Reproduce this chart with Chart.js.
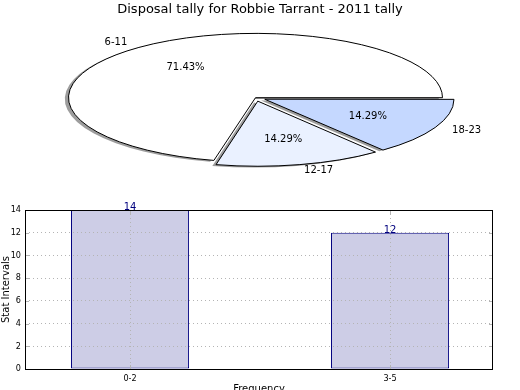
<!DOCTYPE html>
<html>
<head>
<meta charset="utf-8">
<script src="https://cdn.jsdelivr.net/npm/chart.js@4.4.1/dist/chart.umd.min.js"></script>
<style>
  html, body { margin: 0; padding: 0; background: #fff; overflow: hidden; }
  #wrap { position: relative; width: 520px; height: 390px; }
  canvas { position: absolute; left: 0; top: 0; }
</style>
</head>
<body>
<div id="wrap">
  <canvas id="barChart" width="520" height="395"></canvas>
  <canvas id="pieChart" width="520" height="390"></canvas>
</div>
<script>
// pie: disposal tally by stat interval
const ageGroups = ["6-11", "12-17", "18-23"];
const ageShares = [5, 1, 1];

// bar: counts per frequency bin
const freqBins = ["0-2", "3-5"];
const binCounts = [14, 12];
const countTicks = [0, 2, 4, 6, 8, 10, 12, 14];

const sliceColors = ["#ffffff", "#eaf1ff", "#c5d8ff"];
const explode = [0, 41, 41];

// the pie is drawn round by Chart.js and flattened onto an ellipse here
const PIE_X = 255.5, PIE_Y = 97.7, SQUASH = 0.344, SHADOW = 3.7;

Chart.defaults.font.family = "'DejaVu Sans', sans-serif";
Chart.defaults.color = "#000";

function squashTo(ctx, arc, dx, dy) {
  ctx.translate(PIE_X, PIE_Y);
  ctx.scale(1, SQUASH);
  ctx.translate(-arc.x + dx, -arc.y + dy);
}

const flatPie = {
  id: "flatPie",
  beforeDatasetsDraw(chart) {
    const ctx = chart.ctx;
    const arcs = chart.getDatasetMeta(0).data;
    const fill = ctx.fill, stroke = ctx.stroke;
    const dpr = chart.currentDevicePixelRatio;

    // shadows go under every wedge
    ctx.save();
    squashTo(ctx, arcs[0], -SHADOW, SHADOW);
    ctx.fill = function () { this.fillStyle = "rgba(60,60,60,0.5)"; fill.call(this); };
    ctx.stroke = function () {};
    arcs.forEach(a => a.draw(ctx));
    delete ctx.fill;
    delete ctx.stroke;
    ctx.restore();

    // wedges: path squashed, outline stroked at 1px
    ctx.save();
    squashTo(ctx, arcs[0], 0, 0);
    ctx.stroke = function () {
      this.save();
      this.setTransform(dpr, 0, 0, dpr, 0, 0);
      stroke.call(this);
      this.restore();
    };
  },
  afterDatasetsDraw(chart) {
    const ctx = chart.ctx;
    delete ctx.stroke;
    ctx.restore();

    const arcs = chart.getDatasetMeta(0).data;
    const vals = chart.data.datasets[0].data;
    const total = vals.reduce((s, v) => s + v, 0);
    ctx.save();
    ctx.font = "10px 'DejaVu Sans'";
    ctx.fillStyle = "#000";
    ctx.textBaseline = "middle";
    arcs.forEach((arc, i) => {
      const mid = (arc.startAngle + arc.endAngle) / 2;
      const push = (arc.options.offset / 4) * (2 - Math.sin(Math.min(Math.PI, arc.circumference)));
      const at = k => [
        PIE_X + Math.cos(mid) * (push + k * arc.outerRadius),
        PIE_Y + Math.sin(mid) * (push + k * arc.outerRadius) * SQUASH
      ];
      const [lx, ly] = at(1.1);
      ctx.textAlign = Math.cos(mid) > 0 ? "left" : "right";
      ctx.fillText(chart.data.labels[i], lx, ly);
      const [px, py] = at(0.6);
      ctx.textAlign = "center";
      ctx.fillText((vals[i] / total * 100).toFixed(2) + "%", px, py);
    });
    ctx.restore();
  }
};

// matplotlib goes counter-clockwise from 3 o'clock, Chart.js clockwise
const rev = a => a.slice().reverse();

new Chart(document.getElementById("pieChart"), {
  type: "pie",
  data: {
    labels: rev(ageGroups),
    datasets: [{
      data: rev(ageShares),
      backgroundColor: rev(sliceColors),
      offset: rev(explode),
      borderColor: "#000",
      borderWidth: 1,
      borderJoinStyle: "miter",
      clip: false
    }]
  },
  options: {
    responsive: false,
    animation: false,
    events: [],
    rotation: 90,
    radius: 187,
    plugins: {
      legend: { display: false },
      tooltip: { enabled: false },
      title: {
        display: true,
        text: "Disposal tally for Robbie Tarrant - 2011 tally",
        font: { size: 13, weight: "normal" },
        color: "#000",
        padding: { top: 2, bottom: 0 }
      }
    }
  },
  plugins: [flatPie]
});

const axesBox = {
  id: "axesBox",
  afterDraw(chart) {
    const ctx = chart.ctx;
    const { left, top, right, bottom } = chart.chartArea;
    const x = chart.scales.x, y = chart.scales.y;
    ctx.save();
    // little inward tick marks on all four sides
    ctx.strokeStyle = "#b4b4b4";
    ctx.lineWidth = 1;
    ctx.beginPath();
    y.ticks.forEach(t => {
      const py = Math.round(y.getPixelForValue(t.value)) + 0.5;
      ctx.moveTo(left, py); ctx.lineTo(left + 4, py);
      ctx.moveTo(right - 4, py); ctx.lineTo(right, py);
    });
    x.ticks.forEach(t => {
      const px = Math.round(x.getPixelForValue(t.value)) + 0.5;
      ctx.moveTo(px, top); ctx.lineTo(px, top + 4);
      ctx.moveTo(px, bottom - 4); ctx.lineTo(px, bottom);
    });
    ctx.stroke();

    ctx.strokeStyle = "#000";
    ctx.strokeRect(Math.round(left) + 0.5, Math.round(top) + 0.5, Math.round(right - left) - 1, Math.round(bottom - top));

    ctx.font = "10px 'DejaVu Sans'";
    ctx.fillStyle = "#00007f";
    ctx.textAlign = "center";
    ctx.textBaseline = "alphabetic";
    chart.getDatasetMeta(0).data.forEach((bar, i) => {
      ctx.fillText(String(binCounts[i]), bar.x, bar.y);
    });
    ctx.restore();
  }
};

const tickFont = { family: "'DejaVu Sans Condensed', 'DejaVu Sans'", size: 9 };
const gridStyle = { color: "#b4b4b4", drawTicks: false, offset: false, z: 1 };

new Chart(document.getElementById("barChart"), {
  type: "bar",
  data: {
    datasets: [{
      data: freqBins.map((b, i) => ({ x: i, y: binCounts[i] })),
      backgroundColor: "#cdcde6",
      borderColor: "#00007f",
      borderWidth: 1,
      borderSkipped: false,
      barPercentage: 0.454,
      categoryPercentage: 1
    }]
  },
  options: {
    responsive: false,
    animation: false,
    events: [],
    layout: { padding: { top: 210, right: 27, bottom: 0, left: 0 } },
    plugins: { legend: { display: false }, tooltip: { enabled: false } },
    scales: {
      x: {
        type: "linear",
        min: -0.404,
        max: 1.396,
        offset: false,
        afterBuildTicks: s => { s.ticks = freqBins.map((b, i) => ({ value: i })); },
        afterFit: s => { s.height = 26; },
        ticks: { callback: v => freqBins[v], font: tickFont, padding: 4, maxRotation: 0, autoSkip: false },
        grid: gridStyle,
        border: { display: false, dash: [1, 3] },
        title: { display: true, text: "Frequency", font: { size: 10 }, padding: 0 }
      },
      y: {
        min: 0,
        max: 14,
        afterBuildTicks: s => { s.ticks = countTicks.map(v => ({ value: v })); },
        afterFit: s => { s.width = 25; },
        ticks: { font: tickFont, padding: 4 },
        grid: gridStyle,
        border: { display: false, dash: [1, 3] },
        title: { display: true, text: "Stat Intervals", font: { size: 10 }, padding: 0 }
      }
    }
  },
  plugins: [axesBox]
});
</script>
</body>
</html>
